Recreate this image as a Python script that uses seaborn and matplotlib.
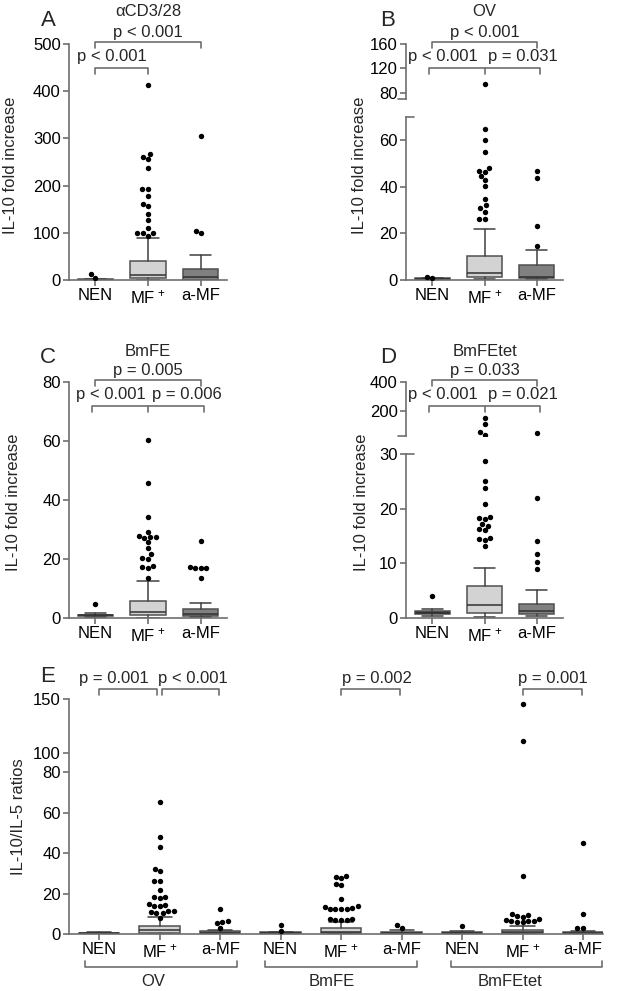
import numpy as np
import matplotlib
matplotlib.use('Agg')
import matplotlib.pyplot as plt
import seaborn as sns
from matplotlib.transforms import blended_transform_factory

# groups
groups = ['NEN', 'MF$^{\\,+}$', 'a-MF']
box_colors = ['#3a3a3a', '#d3d3d3', '#808080']

# panel A  (aCD3/28)
a_q1 = [0.5, 3.6, 1.0]
a_med = [1.0, 11, 6]
a_q3 = [2.0, 40, 23]
a_lo = [0.2, 0.5, 0.3]
a_hi = [3.0, 88, 53]
a_out = [[5, 13],
         [414, 267, 261, 256, 237, 193, 193, 179, 160, 156, 140, 128, 110, 100, 100, 100, 94],
         [305, 104, 99]]

# panel B  (OV)
b_q1 = [0.3, 1.2, 0.9]
b_med = [0.5, 3.1, 1.4]
b_q3 = [0.8, 10.4, 6.3]
b_lo = [0.1, 0.3, 0.3]
b_hi = [1.0, 21.9, 12.7]
b_out = [[1.0, 1.5],
         [94, 65, 60, 55, 48, 47, 46.3, 44.7, 43, 40.4, 34.6, 32, 31, 29.4, 26.3, 26.3],
         [47, 43.6, 23.1, 14.7]]

# panel C  (BmFE)
c_q1 = [0.6, 1.1, 0.8]
c_med = [0.9, 2.0, 1.5]
c_q3 = [1.1, 5.9, 2.9]
c_lo = [0.3, 0.1, 0.2]
c_hi = [1.7, 12.5, 5.1]
c_out = [[4.9],
         [60.3, 45.9, 34.1, 29.2, 27.9, 27.3, 27.3, 27.0, 25.6, 23.7, 21.6, 20.3, 20.0, 17.6, 17.4, 17.0, 13.5],
         [26, 17.4, 16.8, 16.8, 16.8, 13.7]]

# panel D  (BmFEtet)
d_q1 = [0.7, 1.0, 0.8]
d_med = [0.9, 2.3, 1.35]
d_q3 = [1.2, 5.9, 2.6]
d_lo = [0.4, 0.2, 0.3]
d_hi = [1.6, 9.1, 5.1]
d_out = [[4.1],
         [157, 111, 57, 38, 28.7, 25.0, 23.8, 20.9, 18.5, 18.3, 18.1, 17.2, 16.9, 16.3, 16.1, 14.6, 14.4, 14.3, 13.1],
         [55, 22.0, 14.0, 11.7, 10.3, 8.9]]

# panel E  (IL-10/IL-5 ratios), 3 antigens x 3 groups
e_antigens = ['OV', 'BmFE', 'BmFEtet']
e_q1 = [0.2, 0.6, 0.3, 0.3, 0.5, 0.2, 0.3, 0.5, 0.2]
e_med = [0.4, 1.8, 0.7, 0.6, 1.2, 0.5, 0.6, 1.1, 0.5]
e_q3 = [0.6, 3.8, 1.5, 1.0, 2.8, 1.0, 1.0, 2.1, 1.0]
e_lo = [0.1, 0.1, 0.1, 0.1, 0.1, 0.1, 0.1, 0.1, 0.1]
e_hi = [0.8, 8.2, 2.2, 1.2, 5.9, 1.8, 1.3, 3.8, 1.6]
e_out = [[],
         [65, 47.9, 42.8, 32.3, 31.2, 26.3, 26.3, 21.7, 18.4, 18.4, 17.7, 14.8, 14.1, 13.7, 13.7,
          11.5, 11.5, 10.7, 10.3, 10.3, 8.1],
         [12.3, 6.6, 5.9, 5.3, 3.1],
         [4.6, 1.6],
         [28.7, 28.2, 27.7, 24.6, 24.2, 17.2, 13.8, 13.5, 12.6, 12.3, 12.3, 12.1, 12.4, 7.3, 7.0,
          7.0, 6.8, 7.2],
         [4.3, 2.8],
         [3.9],
         [145, 111, 28.4, 9.9, 9.4, 9.0, 8.6, 7.6, 7.0, 6.6, 6.5, 6.2, 6.0, 5.8],
         [44.8, 10.0, 2.8, 2.8]]

sns.set_style('ticks')
plt.rcParams['font.family'] = ['Liberation Sans', 'DejaVu Sans']
plt.rcParams['mathtext.fontset'] = 'custom'
plt.rcParams['mathtext.rm'] = 'Liberation Sans'
plt.rcParams['mathtext.it'] = 'Liberation Sans:italic'

GRAY = '#6e6e6e'
FS = 12
W, H = 619, 991
fig = plt.figure(figsize=(W / 100, H / 100), dpi=100)


def fy(py):
    return 1 - py / H


def add_ax(l, t, r, b):
    return fig.add_axes([l / W, 1 - b / H, (r - l) / W, (b - t) / H])


def draw_boxes(ax, q1, med, q3, lo, hi, outliers, colors, keep=(-1e9, 1e9)):
    pos = list(range(len(q1)))
    stats = [dict(q1=a, med=m, q3=c, whislo=l, whishi=h, fliers=[])
             for a, m, c, l, h in zip(q1, med, q3, lo, hi)]
    bp = ax.bxp(stats, positions=pos, widths=0.67, capwidths=0.4, patch_artist=True,
                showfliers=False, manage_ticks=False,
                boxprops=dict(edgecolor='#505050', linewidth=1.1),
                whiskerprops=dict(color='#404040', linewidth=1.1),
                capprops=dict(color='#404040', linewidth=1.1),
                medianprops=dict(color='#303030', linewidth=1.1))
    for patch, col in zip(bp['boxes'], colors):
        patch.set_facecolor(col)
    # only the outliers that fall inside this axes' value range
    xs, ys = [], []
    for p, vals in zip(pos, outliers):
        for v in vals:
            if keep[0] <= v <= keep[1]:
                xs.append(p)
                ys.append(v)
    sns.swarmplot(x=xs, y=ys, native_scale=True, orient='x', color='black', size=3.9,
                  linewidth=0, ax=ax, zorder=5)


def style(ax, yticks, ylim, xlim, bottom=True, labels=None):
    ax.set_ylim(*ylim)
    ax.set_xlim(*xlim)
    ax.set_yticks(yticks)
    ax.set_xlabel('')
    ax.set_ylabel('')
    for s in ['top', 'right']:
        ax.spines[s].set_visible(False)
    for s in ['left', 'bottom']:
        ax.spines[s].set_color(GRAY)
        ax.spines[s].set_linewidth(1.2)
    ax.tick_params(axis='both', colors=GRAY, labelcolor='black', length=4, width=1.2,
                   labelsize=FS, pad=2)
    if bottom:
        ax.set_xticks(range(len(labels)))
        ax.set_xticklabels(labels)
    else:
        ax.spines['bottom'].set_visible(False)
        ax.tick_params(axis='x', bottom=False, labelbottom=False)


def bracket(ax, x0, x1, y, drop, mid=None, up=False):
    tr = blended_transform_factory(ax.transData, fig.transFigure)
    y2 = y - drop if up else y + drop
    ax.plot([x0, x0, x1, x1], [fy(y2), fy(y), fy(y), fy(y2)], transform=tr,
            color=GRAY, lw=1.2, clip_on=False)
    if mid is not None:
        ax.plot([mid, mid], [fy(y), fy(y2)], transform=tr, color=GRAY, lw=1.2, clip_on=False)


def label(ax, x, y, s, size=FS):
    tr = blended_transform_factory(ax.transData, fig.transFigure)
    ax.text(x, fy(y), s, transform=tr, ha='center', va='center', fontsize=size)


def break_marks(ax_up, ax_lo):
    ax_up.plot([-0.05, 0], [0, 0], transform=ax_up.transAxes, color=GRAY, lw=1.2, clip_on=False)
    ax_lo.plot([0, 0.05], [1, 1], transform=ax_lo.transAxes, color=GRAY, lw=1.2, clip_on=False)


xl = (-0.5, 2.5)

# A
axA = add_ax(69, 44, 227, 280)
draw_boxes(axA, a_q1, a_med, a_q3, a_lo, a_hi, a_out, box_colors)
style(axA, [0, 100, 200, 300, 400, 500], (0, 500), xl, labels=groups)
label(axA, 1, 12, '\u03b1CD3/28')
label(axA, 1, 32, 'p < 0.001')
bracket(axA, 0, 2, 42, 6)
label(axA, 0.32, 57, 'p < 0.001')
bracket(axA, 0, 1, 68, 6)

# B (broken axis)
axB2 = add_ax(406, 44, 563, 99)
axB = add_ax(406, 117, 563, 280)
draw_boxes(axB, b_q1, b_med, b_q3, b_lo, b_hi, b_out, box_colors, keep=(0, 70))
draw_boxes(axB2, b_q1, b_med, b_q3, b_lo, b_hi, b_out, box_colors, keep=(70, 160))
style(axB, [0, 20, 40, 60], (0, 70), xl, labels=groups)
style(axB2, [80, 120, 160], (69.5, 160), xl, bottom=False)
break_marks(axB2, axB)
label(axB, 1, 12, 'OV')
label(axB, 1, 32, 'p < 0.001')
bracket(axB, 0, 2, 42, 6)
label(axB, 0.21, 57, 'p < 0.001')
label(axB, 1.73, 57, 'p = 0.031')
bracket(axB, -0.06, 2.06, 68, 6, mid=1)

# C
axC = add_ax(69, 382, 227, 618)
draw_boxes(axC, c_q1, c_med, c_q3, c_lo, c_hi, c_out, box_colors)
style(axC, [0, 20, 40, 60, 80], (0, 80), xl, labels=groups)
label(axC, 1, 351, 'BmFE')
label(axC, 1, 370, 'p = 0.005')
bracket(axC, 0, 2, 380, 6)
label(axC, 0.29, 395, 'p < 0.001')
label(axC, 1.73, 395, 'p = 0.006')
bracket(axC, -0.06, 2.06, 406, 6, mid=1)

# D (broken axis)
axD2 = add_ax(406, 382, 563, 436)
axD = add_ax(406, 454, 563, 618)
draw_boxes(axD, d_q1, d_med, d_q3, d_lo, d_hi, d_out, box_colors, keep=(0, 30))
draw_boxes(axD2, d_q1, d_med, d_q3, d_lo, d_hi, d_out, box_colors, keep=(30, 400))
style(axD, [0, 10, 20, 30], (0, 30), xl, labels=groups)
style(axD2, [200, 400], (32, 400), xl, bottom=False)
break_marks(axD2, axD)
label(axD, 1, 351, 'BmFEtet')
label(axD, 1, 370, 'p = 0.033')
bracket(axD, 0, 2, 380, 6)
label(axD, 0.21, 395, 'p < 0.001')
label(axD, 1.73, 395, 'p = 0.021')
bracket(axD, -0.06, 2.06, 406, 6, mid=1)

# E with a compressed segment above 80
seg_v = [-1000, 0, 80, 100, 150, 2000]
seg_p = [-2030, 0, 162, 181, 235, 235 + 1850 * 1.08]


def fwd(v):
    return np.interp(v, seg_v, seg_p)


def inv(p):
    return np.interp(p, seg_p, seg_v)


axE = add_ax(69, 699, 603, 934)
axE.set_yscale('function', functions=(fwd, inv))
draw_boxes(axE, e_q1, e_med, e_q3, e_lo, e_hi, e_out, box_colors * 3)
style(axE, [0, 20, 40, 60, 80, 100, 150], (0, 150), (-0.5, 8.33), labels=groups * 3)
axE.yaxis.set_minor_locator(matplotlib.ticker.NullLocator())
label(axE, 0.25, 679, 'p = 0.001')
bracket(axE, 0, 0.96, 689, 6)
label(axE, 1.55, 679, 'p < 0.001')
bracket(axE, 1.04, 1.98, 689, 6)
label(axE, 4.6, 679, 'p = 0.002')
bracket(axE, 4, 4.98, 689, 6)
label(axE, 7.5, 679, 'p = 0.001')
bracket(axE, 7, 7.98, 689, 6)
for x0, x1, xt, name in [(-0.23, 2.28, 0.9, 'OV'), (2.74, 5.26, 3.85, 'BmFE'),
                         (5.82, 8.31, 6.8, 'BmFEtet')]:
    bracket(axE, x0, x1, 967, 6, up=True)
    label(axE, xt, 981, name)

# panel letters and y labels
for s, x, y in [('A', 48, 20), ('B', 388, 20), ('C', 48, 358), ('D', 388, 358), ('E', 48, 676)]:
    fig.text(x / W, fy(y), s, fontsize=16, ha='center', va='center')
for s, x, y in [('IL-10 fold increase', 11, 165), ('IL-10 fold increase', 360, 165),
                ('IL-10 fold increase', 14, 502), ('IL-10 fold increase', 361, 502),
                ('IL-10/IL-5 ratios', 19, 817)]:
    fig.text(x / W, fy(y), s, fontsize=FS, rotation=90, ha='center', va='center')

fig.savefig('out.png', dpi=100)
